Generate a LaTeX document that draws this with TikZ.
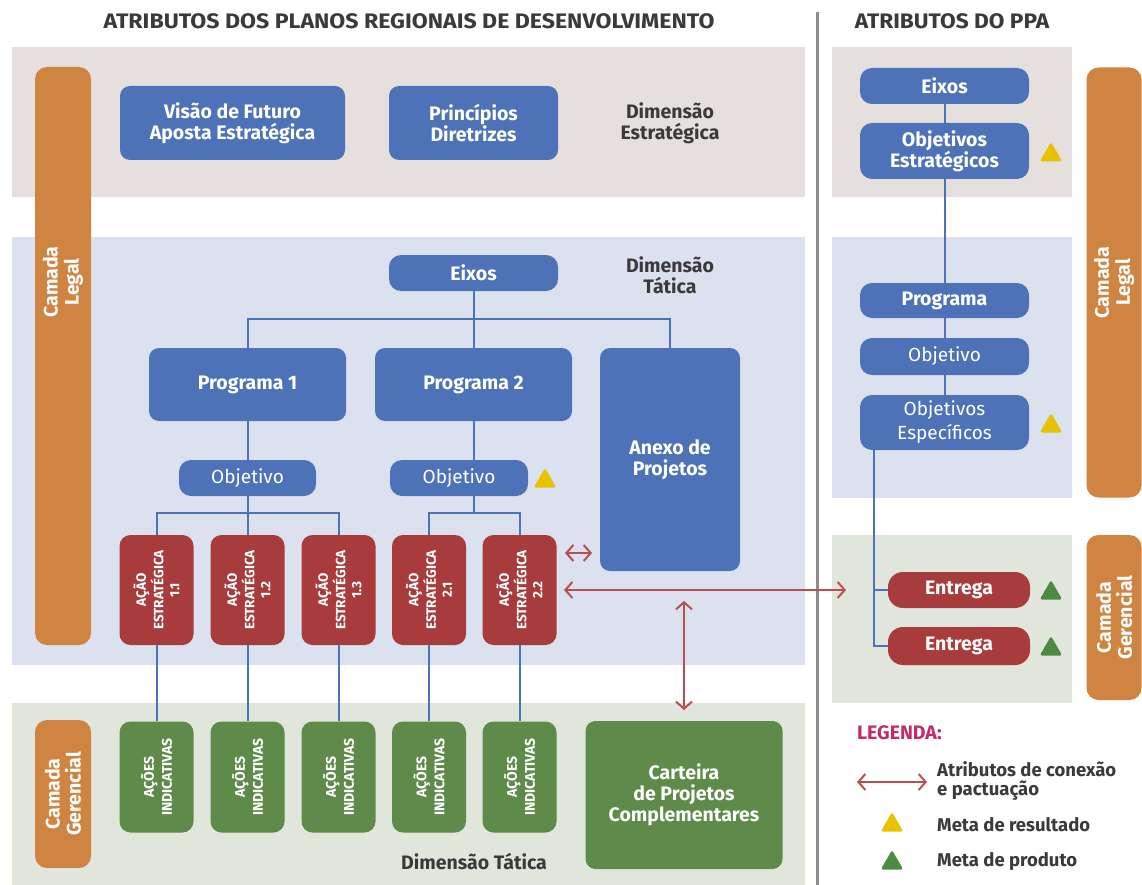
\documentclass[tikz,border=0pt]{standalone}
\usepackage{fontspec}
\setmainfont{Fira Sans}
\usetikzlibrary{arrows.meta,shapes.geometric}
\definecolor{cblue}{HTML}{4E72B8}
\definecolor{cred}{HTML}{A83B3B}
\definecolor{cgreen}{HTML}{5E8A4A}
\definecolor{corange}{HTML}{D08442}
\definecolor{bgS}{HTML}{E5E0DD}
\definecolor{bgT}{HTML}{DCE1EF}
\definecolor{bgG}{HTML}{E1E6DC}
\definecolor{cyellow}{HTML}{E6C200}
\definecolor{ctri}{HTML}{4F8A45}
\definecolor{carrow}{HTML}{B8504F}
\definecolor{ctext}{HTML}{3A3A3A}
\definecolor{cmag}{HTML}{C42B6A}
\definecolor{csep}{HTML}{8C8C8C}
\tikzset{
  bbox/.style={rounded corners=10pt, fill=cblue, text=white, align=center, inner sep=0pt,
    font=\bfseries\fontsize{19.5}{21}\selectfont},
  pill/.style={bbox, rounded corners=12pt},
  pillreg/.style={pill, font=\fontsize{19}{22}\selectfont},
  redbox/.style={rounded corners=11pt, fill=cred, inner sep=0pt, minimum width=74pt, minimum height=110pt},
  grbox/.style={rounded corners=11pt, fill=cgreen, inner sep=0pt, minimum width=74pt, minimum height=111pt},
  vtext/.style={rotate=90, text=white, align=center, inner sep=0pt,
    font=\bfseries\fontsize{13.5}{16}\selectfont},
  obar/.style={rounded corners=12pt, fill=corange, inner sep=0pt},
  otext/.style={rotate=90, text=white, align=center, inner sep=0pt,
    font=\bfseries\fontsize{19.5}{21}\selectfont},
  dimtext/.style={text=ctext, align=center, inner sep=0pt, font=\bfseries\fontsize{19.5}{21}\selectfont},
  ttl/.style={text=ctext, inner sep=0pt, font=\bfseries\fontsize{21}{22}\selectfont},
  lnk/.style={cblue, line width=2pt},
  arr/.style={carrow, line width=2pt, {Straight Barb[length=7pt,width=16pt,line width=2pt]}-{Straight Barb[length=7pt,width=16pt,line width=2pt]}},
  ytri/.style={regular polygon, regular polygon sides=3, fill=cyellow, draw=cyellow, line width=2.5pt, line join=round, minimum size=21pt, inner sep=0pt},
  gtri/.style={ytri, fill=ctri, draw=ctri},
  legtext/.style={text=ctext, anchor=west, align=left, inner sep=0pt, font=\bfseries\fontsize{18.5}{19}\selectfont},
}
\begin{document}
\begin{tikzpicture}[x=1pt,y=-1pt]
\useasboundingbox (0,0) rectangle (1142,885);
\fill[white] (0,0) rectangle (1142,885);
% backgrounds
\fill[bgS] (12,47) rectangle (805,197);
\fill[bgT] (12,237) rectangle (805,665);
\fill[bgG] (12,703) rectangle (805,885);
\fill[bgS] (832,47) rectangle (1072,197);
\fill[bgT] (832,237) rectangle (1072,498);
\fill[bgG] (832,535) rectangle (1072,703);
% separator
\draw[csep, line width=3pt] (817,12) -- (817,885);
% titles
\node[ttl] (t1) at (409,21) {\scalebox{1.1}[1]{ATRIBUTOS DOS PLANOS REGIONAIS DE DESENVOLVIMENTO}};
\node[ttl] (t2) at (952,21) {\scalebox{1.08}[1]{ATRIBUTOS DO PPA}};
% orange bars
\node[obar, minimum width=56pt, minimum height=578pt] (cl) at (63,356) {};
\node[otext] (clt) at (63,282) {Camada\\Legal};
\node[obar, minimum width=56pt, minimum height=148pt] (cg) at (63,794) {};
\node[otext] (cgt) at (63,794) {Camada\\Gerencial};
\node[obar, minimum width=55pt, minimum height=430pt] (crl) at (1114,282.5) {};
\node[otext] (crlt) at (1114,282.5) {Camada\\Legal};
\node[obar, minimum width=55pt, minimum height=165pt] (crg) at (1114,617.5) {};
\node[otext] (crgt) at (1114,617.5) {Camada\\Gerencial};
% dimension labels
\node[dimtext] (dS) at (670,123.5) {Dimensão\\Estratégica};
\node[dimtext] (dT) at (670,275) {Dimensão\\Tática};
\node[dimtext] (dB) at (474,862) {Dimensão Tática};
% strategic boxes
\node[bbox, minimum width=225pt, minimum height=74pt] (vis) at (232.5,123) {Visão de Futuro\\Aposta Estratégica};
\node[bbox, minimum width=169pt, minimum height=74pt] (pri) at (473.5,123) {Princípios\\Diretrizes};
% tactical
\node[pill, minimum width=169pt, minimum height=36pt] (eixL) at (473.5,273) {Eixos};
\node[bbox, minimum width=197pt, minimum height=73pt] (p1) at (247.5,384.5) {Programa 1};
\node[bbox, minimum width=197pt, minimum height=73pt] (p2) at (473.5,384.5) {Programa 2};
\node[bbox, minimum width=140pt, minimum height=223pt] (anx) at (670,459.5) {Anexo de\\Projetos};
\node[pillreg, minimum width=137pt, minimum height=36pt] (o1) at (247.5,478) {Objetivo};
\node[pillreg, minimum width=138pt, minimum height=36pt] (o2) at (459,478) {Objetivo};
\node[ytri] (y1) at (545,481) {};
% red boxes
\foreach \n/\x/\t in {r11/156.5/1.1, r12/247.5/1.2, r13/338.5/1.3, r21/429/2.1, r22/519.5/2.2}{
  \node[redbox] (\n) at (\x,590) {};
  \node[vtext] (\n t) at (\x,590) {AÇÃO\\ESTRATÉGICA\\\t};
}
% green boxes
\foreach \n/\x in {g11/156.5, g12/247.5, g13/338.5, g21/429, g22/519.5}{
  \node[grbox] (\n) at (\x,777) {};
  \node[vtext, font=\bfseries\fontsize{14}{18}\selectfont] (\n t) at (\x,777) {AÇÕES\\INDICATIVAS};
}
\node[bbox, fill=cgreen, minimum width=197pt, minimum height=148pt] (cart) at (684,795) {Carteira\\de Projetos\\Complementares};
% connectors tactical
\coordinate (jT) at (473.5,319);
\draw[lnk] (eixL.south) -- (jT);
\draw[lnk] (p1.north) |- (jT) -| (anx.north);
\draw[lnk] (jT) -- (p2.north);
\draw[lnk] (p1.south) -- (o1.north);
\coordinate (j1) at (247.5,513);
\draw[lnk] (o1.south) -- (j1);
\draw[lnk] (r11.north) |- (j1) -| (r13.north);
\draw[lnk] (j1) -- (r12.north);
\coordinate (j2) at (473.5,513);
\draw[lnk] (p2.south) -- (p2.south |- o2.north);
\draw[lnk] (p2.south |- o2.south) -- (j2);
\draw[lnk] (r21.north) |- (j2) -| (r22.north);
\foreach \a/\b in {r11/g11, r12/g12, r13/g13, r21/g21, r22/g22}{
  \draw[lnk] (\a.south) -- (\b.north);
}
% right column
\node[pill, minimum width=169pt, minimum height=36pt] (eixR) at (944.5,86) {Eixos};
\node[pill, minimum width=169pt, minimum height=56pt] (oest) at (944.5,151) {Objetivos\\Estratégicos};
\node[pill, minimum width=169pt, minimum height=35pt] (prgR) at (944.5,300.5) {Programa};
\node[pillreg, minimum width=169pt, minimum height=37pt] (objR) at (944.5,356.5) {Objetivo};
\node[pillreg, minimum width=169pt, minimum height=55pt, font=\fontsize{19}{24}\selectfont] (oesp) at (944.5,422.5) {Objetivos\\Específicos};
\node[ytri] (y2) at (1051,155) {};
\node[ytri] (y3) at (1051,426) {};
\node[pill, fill=cred, rounded corners=15pt, minimum width=142pt, minimum height=36pt] (ent1) at (959,590) {Entrega};
\node[pill, fill=cred, rounded corners=15pt, minimum width=142pt, minimum height=38pt] (ent2) at (959,646) {Entrega};
\node[gtri] (gt1) at (1051,593) {};
\node[gtri] (gt2) at (1051,649) {};
\draw[lnk] (eixR.south) -- (oest.north);
\draw[lnk] (oest.south) -- (prgR.north);
\draw[lnk] (prgR.south) -- (objR.north);
\draw[lnk] (objR.south) -- (oesp.north);
\coordinate (eTop) at (874,450);
\draw[lnk] (eTop) |- (ent2.west);
\draw[lnk] (eTop |- ent1.west) -- (ent1.west);
% arrows
\coordinate (aS1) at (565,553);
\coordinate (aS2) at (592,553);
\draw[arr] (aS1) -- (aS2);
\coordinate (aL1) at (564,590);
\coordinate (aL2) at (846,590);
\draw[arr] (aL1) -- (aL2);
\coordinate (aV1) at (684,601);
\coordinate (aV2) at (684,710);
\draw[arr] (aV1) -- (aV2);
% legend
\node[text=cmag, anchor=west, inner sep=0pt, font=\bfseries\fontsize{19.5}{20}\selectfont] (leg) at (857,733) {LEGENDA:};
\coordinate (lA1) at (857,782);
\coordinate (lA2) at (927,782);
\draw[arr] (lA1) -- (lA2);
\node[legtext] (l1) at (937,781) {Atributos de conexão\\e pactuação};
\node[ytri] (ly) at (892,825) {};
\node[legtext] (l2) at (937,825) {Meta de resultado};
\node[gtri] (lg) at (892,863) {};
\node[legtext] (l3) at (937,862) {Meta de produto};
\end{tikzpicture}
\end{document}
